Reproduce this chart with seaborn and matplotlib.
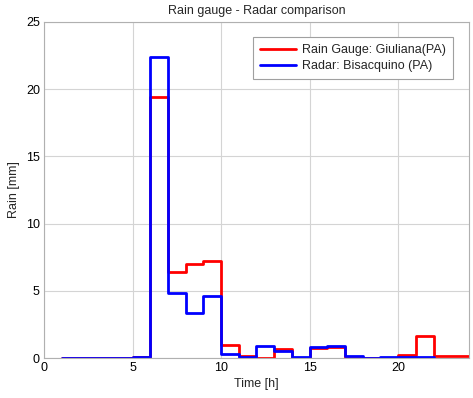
import pandas as pd
import matplotlib
matplotlib.use("Agg")
import matplotlib.pyplot as plt
import seaborn as sns

# hourly rain values (stairs: value holds from hour h to h+1)
gauge_hours = list(range(1, 25))
gauge_rain = [0, 0, 0, 0, 0.1, 19.4, 6.4, 7.0, 7.25, 1.0, 0.17, 0.0,
              0.65, 0.0, 0.74, 0.8, 0.0, 0.0, 0.0, 0.2, 1.6, 0.17, 0.17, 0.17]

radar_hours = list(range(1, 23))
radar_rain = [0, 0, 0, 0, 0.1, 22.4, 4.8, 3.35, 4.6, 0.32, 0.05, 0.86,
              0.52, 0.05, 0.79, 0.86, 0.12, 0.0, 0.05, 0.05, 0.05, 0.05]

gauge_label = "Rain Gauge: Giuliana(PA)"
radar_label = "Radar: Bisacquino (PA)"

sns.set_style("whitegrid")
plt.rcParams['font.family'] = ['Liberation Sans', 'DejaVu Sans']

gauge_df = pd.DataFrame({'hour': gauge_hours, 'rain': gauge_rain})
radar_df = pd.DataFrame({'hour': radar_hours, 'rain': radar_rain})

fig = plt.figure(figsize=(4.73, 3.98), dpi=100)
ax = fig.add_axes([0.093, 0.1005, 0.8985, 0.8445])

sns.lineplot(data=gauge_df, x='hour', y='rain', color='#ff0000', lw=2,
             drawstyle='steps-post', label=gauge_label, ax=ax)
sns.lineplot(data=radar_df, x='hour', y='rain', color='#0000ff', lw=2,
             drawstyle='steps-post', label=radar_label, ax=ax)

ax.set_xlim(0, 24)
ax.set_ylim(0, 25)
ax.set_xticks([0, 5, 10, 15, 20])
ax.set_yticks([0, 5, 10, 15, 20, 25])
ax.grid(True, color='#d4d4d4', lw=0.8)
for s in ax.spines.values():
    s.set_color('#b0b0b0')
    s.set_linewidth(0.8)
ax.tick_params(direction='in', length=3, color='#b0b0b0', labelsize=9,
               labelcolor='black', pad=3)

ax.set_title("Rain gauge - Radar comparison", fontsize=9, pad=6)
ax.set_xlabel("Time [h]", fontsize=9, labelpad=3)
ax.set_ylabel("Rain [mm]", fontsize=9, labelpad=4)

leg = ax.legend(loc='upper right', bbox_to_anchor=(0.962, 0.955),
                borderaxespad=0, fontsize=9,
                fancybox=False, framealpha=1, edgecolor='#a0a0a0',
                handlelength=2.9, borderpad=0.55, labelspacing=0.35,
                handletextpad=0.5)
leg.get_frame().set_linewidth(0.8)

fig.savefig("out.png", dpi=100)
